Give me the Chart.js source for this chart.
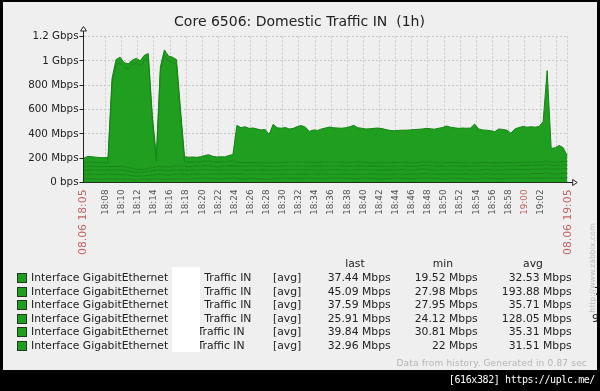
<!DOCTYPE html>
<html>
<head>
<meta charset="utf-8">
<script src="https://cdn.jsdelivr.net/npm/chart.js@4.4.1/dist/chart.umd.min.js"></script>
<style>
  html, body { margin: 0; padding: 0; background: #000; }
  #wrap { position: relative; width: 600px; height: 391px; overflow: hidden; background: #000;
          font-family: 'DejaVu Sans', sans-serif; color: #222; }
  #panel { position: absolute; left: 3px; top: 2px; width: 594px; height: 368px; background: #efefef; }
  #chart { position: absolute; left: 0; top: 0; }
  .abs { position: absolute; white-space: pre; }
  #title { left: 0; width: 599px; top: 13px; text-align: center; font-size: 14px; line-height: 16px; }
  .lg { font-size: 10.8px; line-height: 13.5px; height: 13.5px; }
  .sq { position: absolute; width: 10px; height: 10px; box-sizing: border-box; border: 1px solid #1e3a1e; background: #1f9e1f; }
  .num { text-align: right; }
  #mask { left: 172px; top: 267px; width: 27.5px; height: 85px; background: #fff; }
  #footer { right: 13px; top: 357px; font-size: 9px; line-height: 12px; letter-spacing: 0.18px; color: #b4b4b4; }
  #wm { left: 547.5px; top: 263px; width: 90px; height: 10px; line-height: 10px; font-size: 7.8px;
        text-align: center; color: #bdbdbd; transform: rotate(-90deg); }
  #edge { left: 597px; top: 0; width: 3px; height: 391px; background: #000; }
  #bar { right: 5px; top: 373px; font-family: 'DejaVu Sans Mono', monospace; font-size: 10px;
         line-height: 14px; letter-spacing: -0.4px; color: #fff; }
</style>
</head>
<body>
<div id="wrap">
  <div id="panel"></div>
  <canvas id="chart" width="600" height="391"></canvas>
  <div id="title" class="abs">Core 6506: Domestic Traffic IN  (1h)</div>
  <div id="legend"></div>
  <div id="mask" class="abs"></div>
  <div id="footer" class="abs">Data from history. Generated in 0.87 sec</div>
  <div id="wm" class="abs">http://www.zabbix.com</div>
  <div id="edge" class="abs"></div>
  <div id="bar" class="abs">[616x382] https://uplc.me/</div>
</div>
<script>
// minutes after 18:00, one sample every 30 s
const times = [];
for (let i = 0; i <= 120; i++) times.push(5.3 + i * 0.5);

// Mbps per interface
const s1 = [30,32,33,31,30,31,32,30,29,30, 28,27,22,20,24,27,29,31,32,31, 30,29,31,33,32,31,30,32,33,34,
  35,34,33,32,31,33,34,35,33,32, 31,33,34,33,32,31,30,32,33,34, 35,34,33,32,33,34,35,34,33,32,
  33,34,35,36,35,34,33,32,33,34, 35,34,33,32,31,32,33,34,35,34, 33,32,33,34,35,36,35,34,33,32,
  33,34,35,34,33,32,31,32,33,34, 35,34,33,32,33,34,35,36,35,34, 35,36,37,36,38,40,36,35,36,37, 37.44];
const s2 = [40,48,46,44,42,41,42,44,45,44, 43,42,41,40,41,42,43,42,41,42, 43,42,41,42,43,42,40,41,40,42,
  46,50,44,42,44,43,48,52,305,286, 295,280,284,277,270,273,233,314,287,282, 287,274,278,294,301,289,255,268,263,274,
  281,290,283,278,281,288,295,304,281,280, 275,280,282,284,280,271,265,261,263,264, 265,270,272,273,271,275,273,274,282,290,
  301,291,285,281,285,284,289,320,277,268, 265,264,257,280,273,266,242,278,287,294, 290,292,286,292,328,743,114,120,135,112, 45.09];
const s3 = [34,35,36,35,34,35,36,37,36,35, 34,33,32,30,29,28,30,32,34,35, 34,33,34,35,36,35,34,35,36,37,
  36,35,34,35,36,37,36,35,36,37, 36,35,34,35,36,37,36,35,34,35, 36,37,38,37,36,35,36,37,36,35,
  36,37,36,35,34,35,36,37,38,37, 36,35,36,37,36,35,34,35,36,37, 36,35,36,37,38,37,36,35,36,37,
  36,35,34,35,36,37,36,35,36,37, 38,37,36,35,36,37,36,35,36,37, 36,37,38,37,36,39,37,36,37,38, 37.59];
const s4 = [30,34,31,32,33,31,31,680,834,853, 814,809,849,872,851,895,902,385,45,776, 917,870,858,834,423,38,38,36,32,33,
  37,41,38,37,35,29,38,42,30,29, 30,31,30,29,28,29,30,31,30,29, 28,29,30,31,30,29,28,29,30,31,
  30,29,30,31,30,29,28,29,30,29, 28,27,28,29,30,31,30,29,28,29, 30,29,28,27,28,29,30,29,28,27,
  26,27,28,29,28,27,26,27,28,27, 26,24.12,26,27,28,27,26,25,26,27, 26,25,26,27,28,26,25,26,27,26, 25.91];
const s5 = [36,35,34,35,36,35,34,35,36,37, 36,35,34,33,32,31,32,34,35,36, 35,34,35,36,35,34,35,36,35,34,
  35,36,35,34,35,36,35,34,35,36, 35,34,35,36,35,34,33,34,35,36, 35,34,35,36,37,36,35,34,35,36,
  35,34,35,36,35,34,35,36,35,34, 35,36,35,34,35,36,35,34,35,36, 35,34,35,36,37,36,35,34,35,36,
  37,36,35,34,35,36,35,34,35,36, 35,34,35,36,35,34,35,36,37,36, 35,36,37,36,37,38,36,37,38,39, 39.84];
const s6 = [30,31,32,31,30,31,30,29,30,31, 30,29,27,25,23,22,24,26,28,30, 31,32,31,30,31,32,31,30,31,32,
  33,32,31,30,31,32,31,32,31,30, 31,32,31,30,31,32,33,32,31,30, 31,32,31,30,31,32,31,30,31,32,
  33,32,31,32,31,30,31,32,33,32, 31,30,31,32,31,30,31,32,31,30, 31,32,31,30,31,32,33,32,31,30,
  31,32,33,32,31,30,31,32,31,30, 31,32,31,30,31,32,31,30,31,32, 33,32,31,32,33,34,32,31,32,33, 32.96];

const seriesNames = ['Interface GigabitEthernet', 'Interface GigabitEthernet', 'Interface GigabitEthernet',
  'Interface GigabitEthernet', 'Interface GigabitEthernet', 'Interface GigabitEthernet'];
const lastVals = [37.44, 45.09, 37.59, 25.91, 39.84, 32.96];
const minVals = [19.52, 27.98, 27.95, 24.12, 30.81, 22];
const avgVals = [32.53, 193.88, 35.71, 128.05, 35.31, 31.51];

const yTickValues = [0, 200, 400, 600, 800, 1000, 1200];
const yTickLabels = ['0 bps', '200 Mbps', '400 Mbps', '600 Mbps', '800 Mbps', '1 Gbps', '1.2 Gbps'];

const xTickPos = [5.26, 8, 10, 12, 14, 16, 18, 20, 22, 24, 26, 28, 30, 32, 34, 36, 38, 40, 42, 44,
  46, 48, 50, 52, 54, 56, 58, 60, 62, 64, 65.35];
const xTickLabels = ['08.06 18:05', '18:08', '18:10', '18:12', '18:14', '18:16', '18:18', '18:20', '18:22',
  '18:24', '18:26', '18:28', '18:30', '18:32', '18:34', '18:36', '18:38', '18:40', '18:42', '18:44',
  '18:46', '18:48', '18:50', '18:52', '18:54', '18:56', '18:58', '19:00', '19:02', '', '08.06 19:05'];
const redLabels = ['08.06 18:05', '19:00', '08.06 19:05'];

const fillGreen = '#1f9e1f';
const lineGreen = '#168416';

// stacking order, bottom to top
const series = [s1, s2, s3, s4, s5, s6];
const stackOrder = [0, 2, 4, 5, 3, 1];

Chart.defaults.font.family = 'DejaVu Sans';

const arrows = {
    id: 'arrows',
    afterDraw(chart) {
        const ctx = chart.ctx;
        const a = chart.chartArea;
        const x0 = Math.round(a.left - 0.5) + 0.5;
        const y0 = Math.round(a.bottom - 0.5) + 0.5;
        ctx.save();
        ctx.strokeStyle = '#222';
        ctx.fillStyle = '#fff';
        ctx.lineWidth = 1;
        ctx.beginPath();
        ctx.moveTo(x0, a.top);
        ctx.lineTo(x0, a.top - 5.5);
        ctx.moveTo(a.right, y0);
        ctx.lineTo(a.right + 5, y0);
        ctx.stroke();
        ctx.beginPath();
        ctx.moveTo(x0, a.top - 10);
        ctx.lineTo(x0 - 3, a.top - 5.5);
        ctx.lineTo(x0 + 3, a.top - 5.5);
        ctx.closePath();
        ctx.fill();
        ctx.stroke();
        ctx.beginPath();
        ctx.moveTo(a.right + 9.5, y0);
        ctx.lineTo(a.right + 5, y0 - 3);
        ctx.lineTo(a.right + 5, y0 + 3);
        ctx.closePath();
        ctx.fill();
        ctx.stroke();
        ctx.restore();
    }
};

new Chart(document.getElementById('chart'), {
    type: 'line',
    data: {
        labels: times,
        datasets: stackOrder.map((k, j) => ({
            label: seriesNames[k],
            data: series[k],
            fill: j === 0 ? 'origin' : '-1',
            backgroundColor: fillGreen,
            borderColor: lineGreen,
            borderWidth: 1,
            pointRadius: 0,
            tension: 0
        }))
    },
    options: {
        responsive: false,
        animation: false,
        events: [],
        layout: { padding: { left: 0, top: 36.5, right: 32.3, bottom: 128.5 } },
        plugins: { legend: { display: false }, tooltip: { enabled: false }, title: { display: false } },
        scales: {
            x: {
                type: 'linear',
                min: 5.26,
                max: 65.35,
                afterBuildTicks: s => { s.ticks = xTickPos.map(v => ({ value: v })); },
                afterFit: s => { s.height = 80; },
                ticks: {
                    autoSkip: false,
                    minRotation: 90,
                    maxRotation: 90,
                    padding: 7,
                    callback: (v, i) => xTickLabels[i],
                    color: ctx => redLabels.includes(xTickLabels[ctx.index]) ? '#c26464' : '#555',
                    font: ctx => ({ family: 'DejaVu Sans',
                        size: xTickLabels[ctx.index] && xTickLabels[ctx.index].startsWith('08.06') ? 10.8 : 8.8 })
                },
                grid: {
                    drawTicks: false,
                    color: ctx => ctx.index === 0 ? 'rgba(0,0,0,0)' : '#c8c8c8'
                },
                border: { color: '#222', dash: [2, 2] }
            },
            y: {
                stacked: true,
                min: 0,
                max: 1200,
                afterBuildTicks: s => { s.ticks = yTickValues.map(v => ({ value: v })); },
                afterFit: s => { s.width = 83.5; },
                ticks: {
                    padding: 1,
                    color: '#222',
                    font: { family: 'DejaVu Sans', size: 10.3 },
                    callback: (v, i) => yTickLabels[i]
                },
                grid: { color: '#c8c8c8', tickColor: '#222', tickLength: 4 },
                border: { color: '#222', dash: [2, 2] }
            }
        }
    },
    plugins: [arrows]
});

// legend table
const legend = document.getElementById('legend');
const rowTop = 278;
const rowStep = 13.54;
const suffixX = [204.3, 204.3, 204.3, 204.3, 197.5, 197.5];
const fmt = v => v + ' Mbps';

function addText(text, css, cls) {
    const d = document.createElement('div');
    d.className = 'abs lg ' + (cls || '');
    d.textContent = text;
    Object.assign(d.style, css);
    legend.appendChild(d);
}

addText('last', { left: '330px', width: '50px', textAlign: 'center', top: (264 - 6.75) + 'px' });
addText('min', { left: '418px', width: '50px', textAlign: 'center', top: (264 - 6.75) + 'px' });
addText('avg', { left: '508px', width: '50px', textAlign: 'center', top: (264 - 6.75) + 'px' });

seriesNames.forEach((name, i) => {
    const yc = rowTop + i * rowStep;
    const top = (yc - 6.75) + 'px';
    const sq = document.createElement('div');
    sq.className = 'sq';
    sq.style.left = '16.7px';
    sq.style.top = (yc - 5) + 'px';
    legend.appendChild(sq);
    addText(name, { left: '31px', top: top });
    addText('Traffic IN', { left: suffixX[i] + 'px', top: top });
    addText('[avg]', { left: '273px', top: top });
    addText(fmt(lastVals[i]), { right: (600 - 390.7) + 'px', top: top }, 'num');
    addText(fmt(minVals[i]), { right: (600 - 477.7) + 'px', top: top }, 'num');
    addText(fmt(avgVals[i]), { right: (600 - 571.7) + 'px', top: top }, 'num');
});
// cut-off column at the right edge
addText('7', { left: '594px', top: (rowTop + rowStep - 6.75) + 'px' });
addText('9', { left: '592px', top: (rowTop + 3 * rowStep - 6.75) + 'px' });
</script>
</body>
</html>
